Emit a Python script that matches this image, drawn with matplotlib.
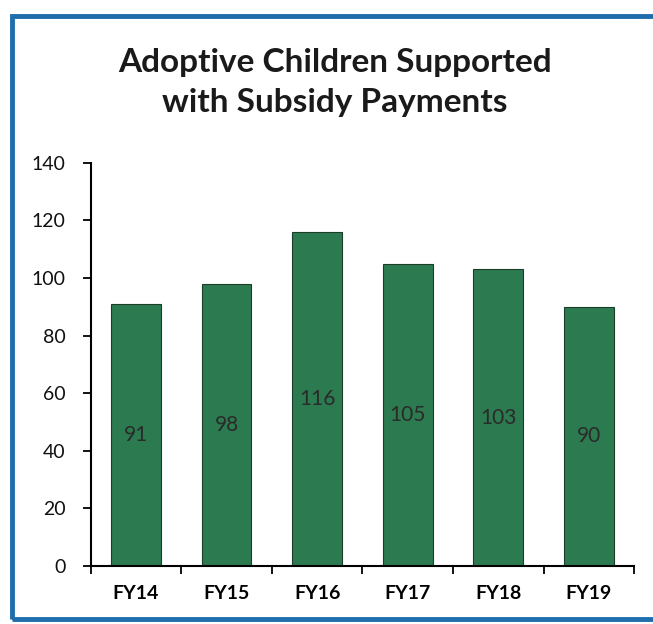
import matplotlib
matplotlib.use("Agg")
import matplotlib.pyplot as plt
from matplotlib.patches import Rectangle
import numpy as np

years = ["FY14", "FY15", "FY16", "FY17", "FY18", "FY19"]
children = [91, 98, 116, 105, 103, 90]
y_ticks = [0, 20, 40, 60, 80, 100, 120, 140]

plt.rcParams['font.family'] = ['Lato', 'DejaVu Sans']

fig = plt.figure(figsize=(6.53, 6.24), dpi=100)
ax = fig.add_axes([0.139, 0.093, 0.832, 0.646])

x = np.arange(len(years))
bars = ax.bar(x, children, width=0.55, color="#2c7a50", edgecolor="#1c3d2a", linewidth=0.8)

# value labels in the middle of each bar
for b, v in zip(bars, children):
    ax.text(b.get_x() + b.get_width() / 2, v / 2, str(v), ha="center", va="center",
            fontsize=15, color="#2a2a2a")

ax.set_xlim(-0.5, len(years) - 0.5)
ax.set_ylim(0, 140)
ax.set_yticks(y_ticks)
ax.set_xticks(x)
ax.set_xticklabels(years, fontsize=14, fontweight="bold")
ax.tick_params(axis="x", which="major", length=0, pad=14)
ax.set_xticks(np.arange(-0.5, len(years)), minor=True)
ax.tick_params(axis="x", which="minor", length=6, width=1.3, direction="out")
ax.tick_params(axis="y", labelsize=14, length=6, width=1.3, pad=12)
for lbl in ax.get_yticklabels():
    lbl.set_color("#111111")

for side in ["top", "right"]:
    ax.spines[side].set_visible(False)
ax.spines["left"].set_linewidth(1.5)
ax.spines["bottom"].set_linewidth(1.5)

fig.text(0.513, 0.868, "Adoptive Children Supported\nwith Subsidy Payments", ha="center", va="center",
         fontsize=24, fontweight="bold", color="#1a1a1a", linespacing=1.45)

# blue frame around the chart
fig.patches.append(Rectangle((0.019, 0.008), 0.985, 0.966, transform=fig.transFigure,
                             fill=False, edgecolor="#1f6dab", linewidth=3.5))

fig.savefig("out.png", dpi=100)
